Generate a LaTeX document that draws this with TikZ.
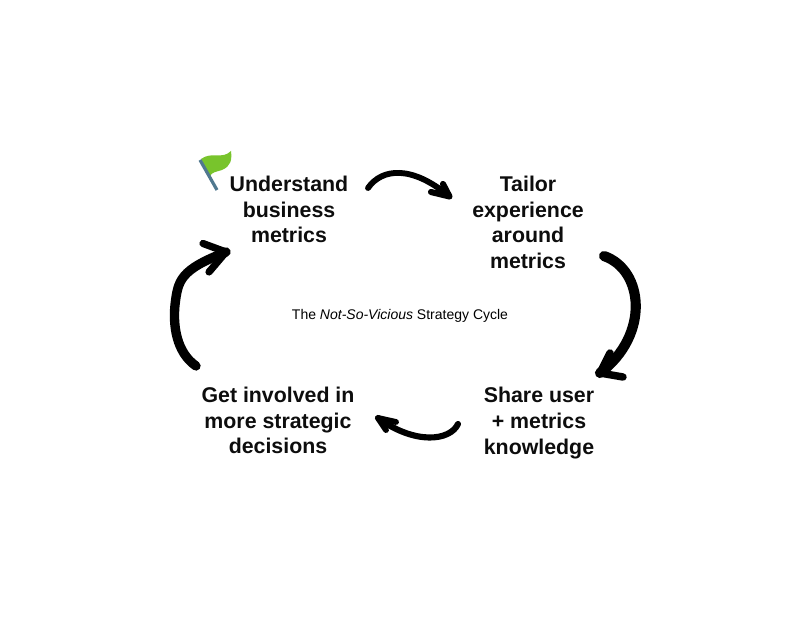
\documentclass[tikz,border=0pt]{standalone}
\usepackage{fontspec}
\setmainfont{Liberation Sans}
\definecolor{flaggreen}{HTML}{78C42C}
\definecolor{flagpole}{HTML}{50788F}
\tikzset{
  stage/.style={align=center,inner sep=0pt,font=\fontsize{16pt}{19.2pt}\selectfont\bfseries,text=black!95},
  sketch/.style={draw=black,line cap=round,line join=round},
  caption/.style={inner sep=0pt,font=\fontsize{10.5pt}{12pt}\selectfont}
}
\begin{document}
\begin{tikzpicture}[x=0.75pt,y=-0.75pt]
\useasboundingbox (0,0) rectangle (800,630);
\fill[white] (0,0) rectangle (800,630);
\node[stage] (understand) at (289,209.5) {Understand\\business\\metrics};
\node[stage] (tailor) at (528,222.5) {Tailor\\experience\\around\\metrics};
\node[stage] (share) at (539,423) {Share user\\+ metrics\\knowledge};
\node[stage] (involved) at (278,420.5) {Get involved in\\more strategic\\decisions};
\node[caption] (title) at (400,316) {The \textit{Not-So-Vicious} Strategy Cycle};
% flag
\fill[flaggreen] (201,159) .. controls (212,151) and (222,160) .. (231,151)
  .. controls (232,160) and (231,166) .. (222,170) .. controls (216,172) and (211,172) .. (210,177) -- cycle;
\draw[flagpole,line width=2.4pt] (200,160) -- (217,190);
% arrows
\coordinate (a1s) at (368,188); \coordinate (a1e) at (449.5,196.5);
\draw[sketch,line width=4.4pt] (a1s) .. controls (382,168) and (412,165) .. (a1e);
\draw[sketch,line width=4.6pt] (443,184) -- (a1e) -- (431,192);
\coordinate (a2s) at (604,256); \coordinate (a2e) at (600,373);
\draw[sketch,line width=7.6pt] (a2s) .. controls (644,270) and (650,335) .. (a2e);
\draw[sketch,line width=5.6pt] (610,353) -- (a2e) -- (623,377);
\coordinate (a3s) at (458,424); \coordinate (a3e) at (378,418);
\draw[sketch,line width=4.6pt] (a3s) .. controls (450,441) and (415,445) .. (a3e);
\draw[sketch,line width=4.4pt] (386,430) -- (a3e) -- (396,422);
\coordinate (a4s) at (196,366); \coordinate (a4e) at (226,252);
\draw[sketch,line width=7pt] (a4s) .. controls (176,352) and (173,325) .. (175,305)
  .. controls (178,280) and (180,270) .. (a4e);
\draw[sketch,line width=5.4pt] (203,243.5) -- (a4e) -- (209,272);
\end{tikzpicture}
\end{document}
